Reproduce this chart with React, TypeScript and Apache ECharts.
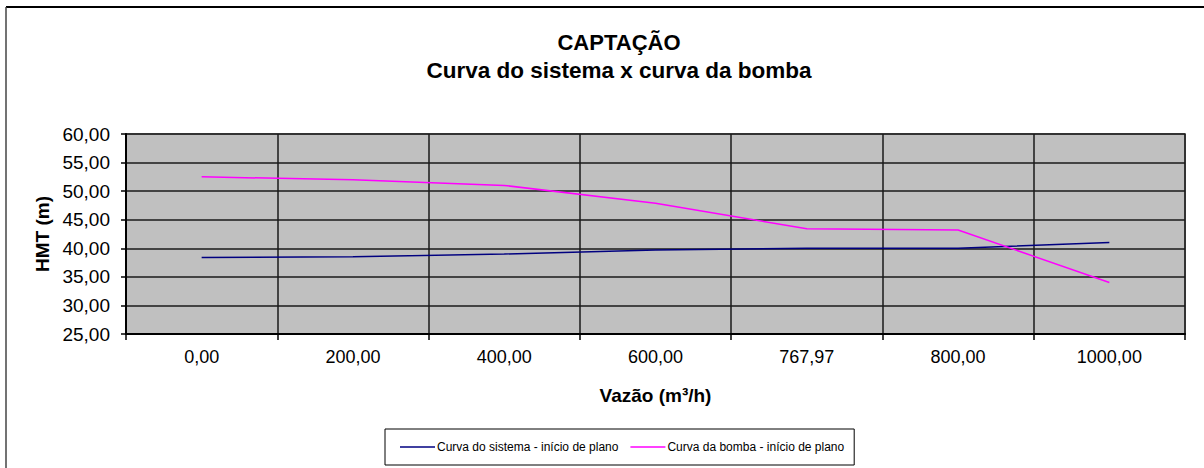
import React, { useEffect, useRef } from "react";
import * as echarts from "echarts";

const categories = ["0,00", "200,00", "400,00", "600,00", "767,97", "800,00", "1000,00"];
const sistema = [38.4, 38.5, 39.0, 39.7, 40.0, 40.0, 41.0];
const bomba = [52.5, 52.0, 51.0, 47.9, 43.4, 43.2, 34.0];
const seriesNames = ["Curva do sistema - início de plano", "Curva da bomba - início de plano"];
const titleLines = ["CAPTAÇÃO", "Curva do sistema x curva da bomba"];
const yMin = 25;
const yMax = 60;
const yStep = 5;

const FONT = "'Liberation Sans', Arial, sans-serif";

export default function App() {
  const ref = useRef<HTMLDivElement>(null);
  useEffect(() => {
    if (!ref.current) return;
    const chart = echarts.init(ref.current, null, { renderer: "svg" });
    const fmt = (v: number) => v.toFixed(2).replace(".", ",");
    chart.setOption({
      animation: false,
      backgroundColor: "#ffffff",
      textStyle: { fontFamily: FONT },
      graphic: [
        { type: "line", shape: { x1: 6, y1: 7, x2: 1204, y2: 7 }, style: { stroke: "#000", lineWidth: 2 } },
        { type: "line", shape: { x1: 6, y1: 7, x2: 6, y2: 468 }, style: { stroke: "#444", lineWidth: 1.5 } },
        {
          type: "text", x: 619, y: 42,
          style: { text: titleLines[0], fontFamily: FONT, fontWeight: "bold", fontSize: 22, fill: "#000", textAlign: "center", textVerticalAlign: "middle" },
        },
        {
          type: "text", x: 619, y: 70,
          style: { text: titleLines[1], fontFamily: FONT, fontWeight: "bold", fontSize: 22.5, fill: "#000", textAlign: "center", textVerticalAlign: "middle" },
        },
      ],
      grid: {
        left: 126, top: 134, width: 1059, height: 200,
        show: true, backgroundColor: "#C0C0C0", borderColor: "#808080", borderWidth: 2,
      },
      legend: {
        left: 385, top: 429,
        padding: [12, 10, 12, 15],
        itemGap: 12,
        itemWidth: 35, itemHeight: 12,
        borderColor: "#000", borderWidth: 1,
        backgroundColor: "#fff",
        textStyle: { fontFamily: FONT, fontSize: 12, color: "#000", padding: [0, 0, 0, -3] },
        data: seriesNames.map((n) => ({ name: n, icon: "path://M0,0L35,0L35,1.5L0,1.5Z" })),
      },
      xAxis: {
        type: "category",
        data: categories,
        boundaryGap: true,
        name: "Vazão (m³/h)",
        nameLocation: "middle",
        nameGap: 52,
        nameTextStyle: { fontFamily: FONT, fontWeight: "bold", fontSize: 19, color: "#000" },
        axisLine: { show: true, onZero: false, lineStyle: { color: "#000", width: 2 } },
        axisTick: { show: true, length: 6, interval: 0, lineStyle: { color: "#000", width: 1.5 } },
        axisLabel: { interval: 0, margin: 14, fontFamily: FONT, fontSize: 18, color: "#000" },
        splitLine: { show: true, interval: 0, lineStyle: { color: "#1a1a1a", width: 1.5 } },
      },
      yAxis: {
        type: "value",
        min: yMin, max: yMax, interval: yStep,
        name: "HMT (m)",
        nameLocation: "middle",
        nameGap: 72,
        nameTextStyle: { fontFamily: FONT, fontWeight: "bold", fontSize: 19, color: "#000" },
        axisLine: { show: true, lineStyle: { color: "#000", width: 2 } },
        axisTick: { show: true, length: 5, lineStyle: { color: "#000", width: 1.5 } },
        axisLabel: { margin: 16, fontFamily: FONT, fontSize: 19, color: "#000", formatter: fmt },
        splitLine: { show: true, lineStyle: { color: "#1a1a1a", width: 1.5 } },
      },
      series: [
        {
          name: seriesNames[0], type: "line", data: sistema, symbol: "none",
          lineStyle: { color: "#000080", width: 1.5 }, itemStyle: { color: "#000080" },
        },
        {
          name: seriesNames[1], type: "line", data: bomba, symbol: "none",
          lineStyle: { color: "#FF00FF", width: 1.5 }, itemStyle: { color: "#FF00FF" },
        },
      ],
    });
    return () => chart.dispose();
  }, []);
  return <div ref={ref} style={{ position: "fixed", left: 0, top: 0, width: 1204, height: 468 }} />;
}
